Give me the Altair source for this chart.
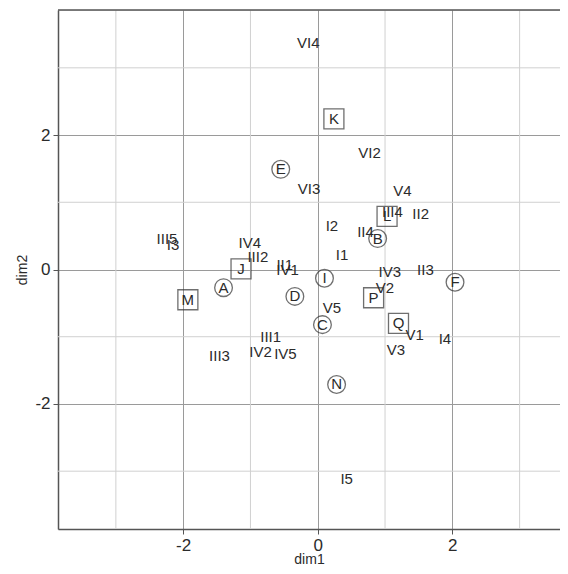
import altair as alt
import pandas as pd

# Plain text labels
txt_labels = ["VI4", "VI2", "VI3", "V4", "III4", "II2", "I2", "II4", "I1", "III5", "I3",
              "IV4", "III2", "II1", "IV1", "IV3", "II3", "V2", "V5", "V1", "I4", "V3",
              "III1", "IV2", "IV5", "III3", "I5"]
txt_x = [-0.14, 0.77, -0.13, 1.26, 1.11, 1.53, 0.21, 0.71, 0.36, -2.24, -2.15,
         -1.01, -0.89, -0.49, -0.45, 1.07, 1.60, 1.00, 0.21, 1.44, 1.89, 1.16,
         -0.70, -0.85, -0.48, -1.46, 0.43]
txt_y = [3.37, 1.74, 1.19, 1.17, 0.85, 0.82, 0.64, 0.56, 0.22, 0.45, 0.36,
         0.40, 0.18, 0.06, -0.01, -0.04, 0.00, -0.27, -0.58, -0.98, -1.03, -1.19,
         -1.01, -1.23, -1.25, -1.28, -3.11]

# Circled letters
circ_labels = ["A", "B", "C", "D", "E", "F", "I", "N"]
circ_x = [-1.40, 0.89, 0.07, -0.34, -0.55, 2.04, 0.10, 0.28]
circ_y = [-0.27, 0.46, -0.82, -0.40, 1.49, -0.19, -0.13, -1.71]

# Boxed letters
box_labels = ["J", "K", "L", "M", "P", "Q"]
box_x = [-1.14, 0.24, 1.03, -1.93, 0.83, 1.20]
box_y = [0.01, 2.24, 0.79, -0.45, -0.42, -0.80]

major_ticks = [-2, 0, 2]
minor_ticks = [-3, -1, 1, 3]
x_domain = [-3.86, 3.60]
y_domain = [-3.86, 3.86]

df_txt = pd.DataFrame({"label": txt_labels, "dim1": txt_x, "dim2": txt_y})
df_circ = pd.DataFrame({"label": circ_labels, "dim1": circ_x, "dim2": circ_y})
df_box = pd.DataFrame({"label": box_labels, "dim1": box_x, "dim2": box_y})
df_minor = pd.DataFrame({"v": minor_ticks})
df_one = pd.DataFrame({"v": [0]})

FONT = "Liberation Sans"
INK = "#2b2b2b"
FRAME = "#555555"

xscale = alt.Scale(domain=x_domain, nice=False, zero=False)
yscale = alt.Scale(domain=y_domain, nice=False, zero=False)

xaxis = alt.Axis(values=major_ticks, title="dim1", grid=True, gridColor="#9a9a9a",
                 gridWidth=1, domain=True, domainColor=FRAME, domainWidth=1.5,
                 tickColor=FRAME, tickSize=5, labelExpr="toString(datum.value)",
                 labelFontSize=17, labelColor=INK, labelFont=FONT, labelPadding=3,
                 titleFontSize=14, titleFont=FONT, titleColor=INK,
                 titleFontWeight="normal", titleBaseline="alphabetic", titleY=34)
yaxis = alt.Axis(values=major_ticks, title="dim2", grid=True, gridColor="#9a9a9a",
                 gridWidth=1, domain=True, domainColor=FRAME, domainWidth=1.5,
                 tickColor=FRAME, tickSize=5, labelExpr="toString(datum.value)",
                 labelFontSize=17, labelColor=INK, labelFont=FONT, labelPadding=3,
                 titleFontSize=14, titleFont=FONT, titleColor=INK,
                 titleFontWeight="normal", titlePadding=5)

X = lambda f: alt.X(f, scale=xscale, axis=xaxis)
Y = lambda f: alt.Y(f, scale=yscale, axis=yaxis)

minor_v = alt.Chart(df_minor).mark_rule(color="#d0d0d0", strokeWidth=1).encode(x=X("v:Q"))
minor_h = alt.Chart(df_minor).mark_rule(color="#d0d0d0", strokeWidth=1).encode(y=Y("v:Q"))

top_frame = alt.Chart(df_one).mark_rule(color=FRAME, strokeWidth=1.5).encode(
    y=alt.value(0))

text = alt.Chart(df_txt).mark_text(fontSize=15, font=FONT, color=INK).encode(
    x=X("dim1:Q"), y=Y("dim2:Q"), text="label:N")

circ_pts = alt.Chart(df_circ).mark_point(shape="circle", size=314, filled=False,
                                         color="#333", strokeWidth=1.3).encode(
    x=X("dim1:Q"), y=Y("dim2:Q"))
circ_txt = alt.Chart(df_circ).mark_text(fontSize=15, font=FONT, color=INK).encode(
    x=X("dim1:Q"), y=Y("dim2:Q"), text="label:N")

box_pts = alt.Chart(df_box).mark_point(shape="square", size=400, filled=False,
                                       color="#333", strokeWidth=1.3).encode(
    x=X("dim1:Q"), y=Y("dim2:Q"))
box_txt = alt.Chart(df_box).mark_text(fontSize=15, font=FONT, color=INK).encode(
    x=X("dim1:Q"), y=Y("dim2:Q"), text="label:N")

chart = alt.layer(minor_v, minor_h, text, circ_pts, circ_txt, box_pts, box_txt, top_frame).properties(
    width=502, height=519,
    autosize=alt.AutoSizeParams(type="none"),
    padding={"left": 50, "top": 2, "right": 0, "bottom": 37},
).configure_view(stroke=None).configure(background="white")

chart.save("out.html", embed_options={"renderer": "svg", "actions": False})
